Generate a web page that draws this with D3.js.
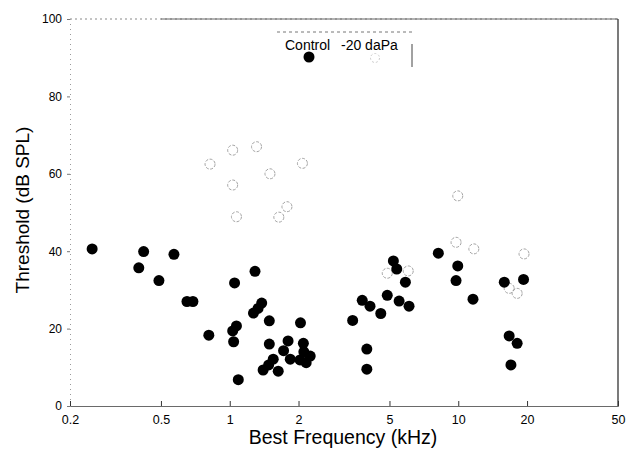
<!DOCTYPE html>
<html>
<head>
<meta charset="utf-8">
<script src="https://cdn.jsdelivr.net/npm/d3@7"></script>
<style>
  body { margin: 0; background: #fff; }
  text { font-family: "Liberation Sans", Arial, sans-serif; fill: #000; }
</style>
</head>
<body>
<div id="scatter"></div>
<script>
// Control (filled) : best frequency in kHz
var controlFreq = [0.25, 0.42, 0.40, 0.49, 0.57, 0.65, 0.69, 0.81, 1.05, 1.29,
  1.07, 1.03, 1.04, 1.09, 1.38, 1.33, 1.27, 1.49, 2.04, 1.49,
  1.80, 1.72, 2.10, 1.55, 1.48, 1.40, 1.63, 1.84, 2.03, 2.16,
  2.25, 2.11, 3.45, 3.80, 4.11, 4.58, 4.89, 5.20, 5.38, 5.87,
  5.51, 6.09, 3.98, 3.98, 8.18, 9.95, 9.78, 11.6, 15.9, 19.3,
  16.7, 18.1, 17.0];
// Control : threshold in dB SPL
var controlThresh = [40.6, 39.9, 35.7, 32.4, 39.2, 27.0, 27.0, 18.3, 31.8, 34.8,
  20.7, 19.4, 16.6, 6.8, 26.6, 25.2, 24.0, 22.0, 21.5, 16.0,
  16.8, 14.3, 16.2, 12.1, 10.6, 9.3, 9.0, 12.1, 11.9, 11.2,
  12.9, 14.0, 22.1, 27.3, 25.8, 23.9, 28.6, 37.5, 35.4, 32.0,
  27.1, 25.8, 14.7, 9.5, 39.5, 36.2, 32.4, 27.6, 32.0, 32.7,
  18.1, 16.2, 10.6];

// -20 daPa (open)
var pressFreq = [9.78, 11.7, 9.95, 19.4, 16.7, 18.1, 4.89, 6.04,
  0.82, 1.03, 1.31, 1.50, 2.08, 1.78, 1.64, 1.03, 1.07];
var pressThresh = [42.3, 40.6, 54.3, 39.3, 30.4, 29.1, 34.3, 34.9,
  62.5, 66.1, 67.0, 60.0, 62.7, 51.5, 48.8, 57.1, 48.9];

// tick labels
var xTicks = [0.2, 0.5, 1, 2, 5, 10, 20, 50];
var yTicks = [0, 20, 40, 60, 80, 100];
var legendLabels = ["Control", "-20 daPa"];

var svgWidth = 626;
var svgHeight = 455;

var chartMargin = { top: 19, right: 8, bottom: 49, left: 70 };
var chartWidth = svgWidth - chartMargin.left - chartMargin.right;
var chartHeight = svgHeight - chartMargin.top - chartMargin.bottom;

var svg = d3.select("#scatter")
  .append("svg")
  .attr("width", svgWidth)
  .attr("height", svgHeight);

var chartGroup = svg.append("g")
  .attr("transform", `translate(${chartMargin.left}, ${chartMargin.top})`);

var xLogScale = d3.scaleLog()
  .domain([0.2, 50])
  .range([0, chartWidth]);

var yLinearScale = d3.scaleLinear()
  .domain([0, 100])
  .range([chartHeight, 0]);

// frame, scanned look: faint top/left, darker right/bottom
chartGroup.append("line")
  .attr("x1", 0).attr("x2", chartWidth).attr("y1", 0).attr("y2", 0)
  .attr("stroke", "#888").attr("stroke-width", 1)
  .attr("stroke-dasharray", "2,3");
chartGroup.append("line")
  .attr("x1", xLogScale(0.5)).attr("x2", chartWidth).attr("y1", 0).attr("y2", 0)
  .attr("stroke", "#666").attr("stroke-width", 1);
chartGroup.append("line")
  .attr("x1", chartWidth).attr("x2", chartWidth).attr("y1", 0).attr("y2", chartHeight)
  .attr("stroke", "#222").attr("stroke-width", 1.2);

// left axis
var leftAxis = d3.axisLeft(yLinearScale)
  .tickValues(yTicks)
  .tickSize(3)
  .tickPadding(5)
  .tickFormat(d3.format("d"));

var yAxisG = chartGroup.append("g").call(leftAxis);
yAxisG.select(".domain")
  .attr("stroke", "#999")
  .attr("stroke-dasharray", "1,4");
yAxisG.selectAll(".tick line").attr("stroke", "#777");
yAxisG.selectAll("text").style("font-size", "12px");

// bottom axis, ticks point inward
var bottomAxis = d3.axisBottom(xLogScale)
  .tickValues(xTicks)
  .tickSize(-5)
  .tickPadding(9)
  .tickFormat(d => String(d));

var xAxisG = chartGroup.append("g")
  .attr("transform", `translate(0, ${chartHeight})`)
  .call(bottomAxis);
xAxisG.select(".domain").attr("stroke", "#444").attr("stroke-width", 0.8);
xAxisG.selectAll(".tick line").attr("stroke", "#333");
xAxisG.selectAll("text").style("font-size", "12.5px");

// open circles (-20 daPa)
chartGroup.selectAll(".pressCircle")
  .data(pressFreq.map((f, i) => ({ f: f, t: pressThresh[i] })))
  .enter()
  .append("circle")
  .attr("class", "pressCircle")
  .attr("cx", d => xLogScale(d.f))
  .attr("cy", d => yLinearScale(d.t))
  .attr("r", 5)
  .attr("fill", "none")
  .attr("stroke", "#999")
  .attr("stroke-width", 0.9)
  .attr("stroke-dasharray", "3,1.5");

// filled circles (Control)
chartGroup.selectAll(".controlCircle")
  .data(controlFreq.map((f, i) => ({ f: f, t: controlThresh[i] })))
  .enter()
  .append("circle")
  .attr("class", "controlCircle")
  .attr("cx", d => xLogScale(d.f))
  .attr("cy", d => yLinearScale(d.t))
  .attr("r", 5.5)
  .attr("fill", "#000");

// legend box
var legend = svg.append("g")
  .attr("transform", "translate(277, 32)");
legend.append("line")
  .attr("x1", 0).attr("x2", 135).attr("y1", 0).attr("y2", 0)
  .attr("stroke", "#777").attr("stroke-dasharray", "3,3");
legend.append("line")
  .attr("x1", 135).attr("x2", 135).attr("y1", 12).attr("y2", 35)
  .attr("stroke", "#444");
legend.append("text")
  .attr("x", 8).attr("y", 18)
  .style("font-size", "14px")
  .text(legendLabels[0]);
legend.append("text")
  .attr("x", 64).attr("y", 18)
  .style("font-size", "14px")
  .text(legendLabels[1]);
legend.append("circle")
  .attr("cx", 32).attr("cy", 25).attr("r", 5.5)
  .attr("fill", "#000");
legend.append("circle")
  .attr("cx", 98).attr("cy", 26).attr("r", 4.5)
  .attr("fill", "none").attr("stroke", "#ccc")
  .attr("stroke-dasharray", "2,2");

// axis titles
svg.append("text")
  .attr("x", 343)
  .attr("y", 444)
  .attr("text-anchor", "middle")
  .style("font-size", "19.5px")
  .text("Best Frequency (kHz)");

svg.append("text")
  .attr("transform", "translate(29, 210) rotate(-90)")
  .attr("text-anchor", "middle")
  .style("font-size", "19px")
  .text("Threshold (dB SPL)");
</script>
</body>
</html>
